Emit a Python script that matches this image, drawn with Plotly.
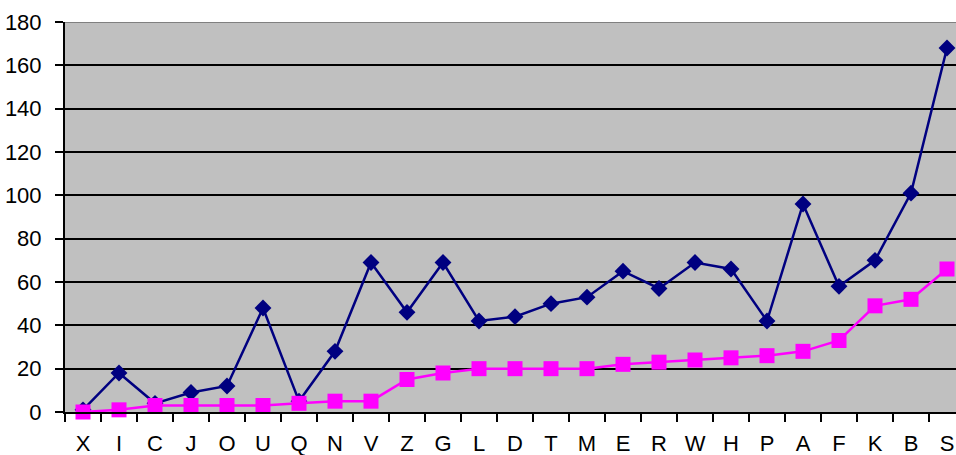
import plotly.graph_objects as go

categories = ["X","I","C","J","O","U","Q","N","V","Z","G","L","D","T","M","E","R","W","H","P","A","F","K","B","S"]
series_blue = [1,18,4,9,12,48,5,28,69,46,69,42,44,50,53,65,57,69,66,42,96,58,70,101,168]
series_pink = [0,1,3,3,3,3,4,5,5,15,18,20,20,20,20,22,23,24,25,26,28,33,49,52,66]
y_ticks = [0,20,40,60,80,100,120,140,160,180]

fig = go.Figure()
fig.add_trace(go.Scatter(
    x=categories, y=series_blue, mode="lines+markers",
    line=dict(color="#000080", width=2.5),
    marker=dict(symbol="diamond", size=13, color="#000080"),
    cliponaxis=False, showlegend=False))
fig.add_trace(go.Scatter(
    x=categories, y=series_pink, mode="lines+markers",
    line=dict(color="#FF00FF", width=2.5),
    marker=dict(symbol="square", size=15, color="#FF00FF"),
    cliponaxis=False, showlegend=False))

fig.add_shape(type="line", xref="paper", yref="y", x0=0, x1=1, y0=180, y1=180,
              line=dict(color="#808080", width=2), layer="above")

fig.update_layout(
    width=956, height=455,
    margin=dict(l=65, r=0, t=22, b=43),
    paper_bgcolor="white", plot_bgcolor="#C0C0C0",
    font=dict(family="Liberation Sans, Arial, sans-serif", size=22, color="black"),
    xaxis=dict(type="category", range=[-0.5, 24.25], showgrid=False, automargin=False,
               ticks="outside", tickson="boundaries", ticklen=8, tickwidth=2, tickcolor="black",
               ticklabelstandoff=11,
               showline=True, linecolor="black", linewidth=2, zeroline=False),
    yaxis=dict(range=[0, 180], tickvals=y_ticks, showgrid=True, gridcolor="black", gridwidth=2,
               automargin=False, ticklabelstandoff=9,
               ticks="outside", ticklen=8, tickwidth=2, tickcolor="black",
               showline=True, linecolor="black", linewidth=2, zeroline=False),
)

# remove the page's default body margin so the figure fills the window exactly
fig.write_html("out.html",
               config={"displayModeBar": False},
               post_script="document.body.style.margin='0';document.body.style.overflow='hidden';")
